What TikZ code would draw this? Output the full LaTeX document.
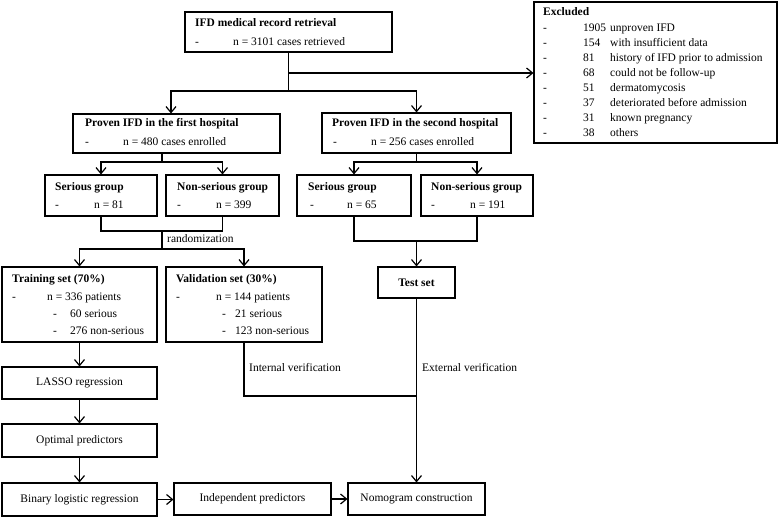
\documentclass[tikz,border=0pt]{standalone}
\usepackage{fontspec}
\setmainfont{Liberation Serif}
\usetikzlibrary{arrows.meta}
\newcommand\mkbox[7]{\node[box,minimum width={(#4-#2)*1pt},minimum height={(#5-#3)*1pt},#6] (#1) at ({(#2+#4)/2},{(#3+#5)/2}) {#7};}
\begin{document}
\begin{tikzpicture}[x=1pt,y=-1pt,
  fnt/.style={font=\fontsize{11.5}{13}\selectfont},
  box/.style={draw,line width=1.1pt,inner sep=0pt,fnt},
  bbox/.style={box,font=\fontsize{11.5}{13}\selectfont\bfseries},
  txt/.style={anchor=west,inner sep=0pt,fnt,text height=9pt,text depth=1.5pt},
  btxt/.style={txt,font=\fontsize{11.5}{13}\selectfont\bfseries},
  conn/.style={line width=1.3pt},
  rconn/.style={conn,line cap=rect},
  arr/.style={conn,-{Straight Barb[length=6pt,width=10pt,line width=1.2pt]}}]
\fill[white] (0,0) rectangle (778,517);
\useasboundingbox (0,0) rectangle (778,517);
% boxes
\mkbox{b1}{185}{12}{392}{52}{}{}
\mkbox{exc}{534}{2}{777}{143}{}{}
\mkbox{h1}{73}{114}{280}{153}{}{}
\mkbox{h2}{322}{113}{511}{153}{}{}
\mkbox{s1}{45}{175}{157}{216}{}{}
\mkbox{n1}{166}{175}{279}{216}{}{}
\mkbox{s2}{297}{175}{411}{216}{}{}
\mkbox{n2}{421}{175}{533}{216}{}{}
\mkbox{tr}{2}{267}{157}{342}{}{}
\mkbox{va}{166}{267}{322}{342}{}{}
\mkbox{ts}{378}{267}{455}{298}{bbox}{Test set}
\mkbox{la}{2}{367}{157}{399}{}{LASSO regression}
\mkbox{op}{2}{424}{157}{457}{}{Optimal predictors}
\mkbox{bl}{2}{483}{157}{516}{}{Binary logistic regression}
\mkbox{ip}{174}{483}{331}{515}{}{Independent predictors}
\mkbox{nc}{348}{483}{485}{515}{}{Nomogram construction}
% texts
\node[btxt] (b1a) at (195,23) {IFD medical record retrieval};
\node[txt] (b1b) at (195,42) {-};
\node[txt] (b1c) at (233,42) {n = 3101 cases retrieved};
\node[btxt] (exa) at (543,12) {Excluded};
\foreach \i/\n/\t in {0/1905/unproven IFD,1/154/with insufficient data,2/81/history of IFD prior to admission,3/68/could not be follow-up,4/51/dermatomycosis,5/37/deteriorated before admission,6/31/known pregnancy,7/38/others}{
  \node[txt] (exd\i) at (543,{27.5+15*\i}) {-};
  \node[txt] (exn\i) at (583,{27.5+15*\i}) {\n};
  \node[txt] (ext\i) at (610,{27.5+15*\i}) {\t};
}
\node[btxt] (h1a) at (85,123) {Proven IFD in the first hospital};
\node[txt] (h1b) at (85,142) {-};
\node[txt] (h1c) at (123,142) {n = 480 cases enrolled};
\node[btxt] (h2a) at (332,123) {Proven IFD in the second hospital};
\node[txt] (h2b) at (333,142) {-};
\node[txt] (h2c) at (371,142) {n = 256 cases enrolled};
\node[btxt] (s1a) at (55,187) {Serious group};
\node[txt] (s1b) at (55,205) {-};
\node[txt] (s1c) at (94,205) {n = 81};
\node[btxt] (n1a) at (177,187) {Non-serious group};
\node[txt] (n1b) at (177,205) {-};
\node[txt] (n1c) at (216,205) {n = 399};
\node[btxt] (s2a) at (308,187) {Serious group};
\node[txt] (s2b) at (310,205) {-};
\node[txt] (s2c) at (347,205) {n = 65};
\node[btxt] (n2a) at (431,187) {Non-serious group};
\node[txt] (n2b) at (431,205) {-};
\node[txt] (n2c) at (470,205) {n = 191};
\node[btxt] (tra) at (12,279) {Training set (70\%)};
\node[txt] (trb) at (12,297) {-};
\node[txt] (trc) at (47,297) {n = 336 patients};
\node[txt] (trd) at (53,314) {-};
\node[txt] (tre) at (70,314) {60 serious};
\node[txt] (trf) at (53,331) {-};
\node[txt] (trg) at (70,331) {276 non-serious};
\node[btxt] (vaa) at (176,279) {Validation set (30\%)};
\node[txt] (vab) at (176,297) {-};
\node[txt] (vac) at (216,297) {n = 144 patients};
\node[txt] (vad) at (222,314) {-};
\node[txt] (vae) at (235,314) {21 serious};
\node[txt] (vaf) at (222,331) {-};
\node[txt] (vag) at (235,331) {123 non-serious};
% connectors top
\coordinate (j1) at (288.5,91);
\coordinate (e1) at (288.5,73);
\coordinate (h1j) at (171,91);
\draw[conn] (b1.south) -- (j1);
\draw[arr] (e1) -- (e1 -| exc.west);
\draw[rconn] (h1j) -- (j1 -| h2.north);
\draw[arr] (h1j) -- (h1j |- h1.north);
\draw[arr] (j1 -| h2.north) -- (h2.north);
% first hospital split
\coordinate (k1) at (162,162);
\draw[conn] (k1 |- h1.south) -- (k1);
\draw[rconn] (k1 -| s1.north) -- (k1 -| n1.north);
\draw[arr] (k1 -| s1.north) -- (s1.north);
\draw[arr] (k1 -| n1.north) -- (n1.north);
% second hospital split
\coordinate (k2) at (416.5,162);
\draw[conn] (h2.south) -- (k2);
\draw[rconn] (k2 -| s2.north) -- (k2 -| n2.north);
\draw[arr] (k2 -| s2.north) -- (s2.north);
\draw[arr] (k2 -| n2.north) -- (n2.north);
% merge 1
\coordinate (m1) at (162,231);
\coordinate (r1) at (162,249);
\draw[conn,line join=miter] (s1.south) -- (s1.south |- m1) -- (n1.south |- m1) -- (n1.south);
\draw[conn] (m1) -- (r1);
\draw[rconn] (r1 -| tr.north) -- (r1 -| va.north);
\draw[arr] (r1 -| tr.north) -- (tr.north);
\draw[arr] (r1 -| va.north) -- (va.north);
\node[txt] (rand) at (167,239) {randomization};
% merge 2
\coordinate (m2) at (416.5,241);
\draw[conn,line join=miter] (s2.south) -- (s2.south |- m2) -- (n2.south |- m2) -- (n2.south);
\draw[arr] (m2) -- (m2 |- ts.north);
% left column
\draw[arr] (tr.south) -- (la.north);
\draw[arr] (la.south) -- (op.north);
\draw[arr] (op.south) -- (bl.north);
\draw[arr] (bl.east) -- (bl.east -| ip.west);
\draw[arr] (ip.east) -- (ip.east -| nc.west);
% verification
\coordinate (v1) at (244,396);
\draw[conn,line join=miter] (va.south) -- (va.south |- v1) -- (v1 -| nc.north);
\draw[arr] (ts.south) -- (ts.south |- nc.north);
\node[txt] (iv) at (249,368) {Internal verification};
\node[txt] (ev) at (422,368) {External verification};
\end{tikzpicture}
\end{document}
